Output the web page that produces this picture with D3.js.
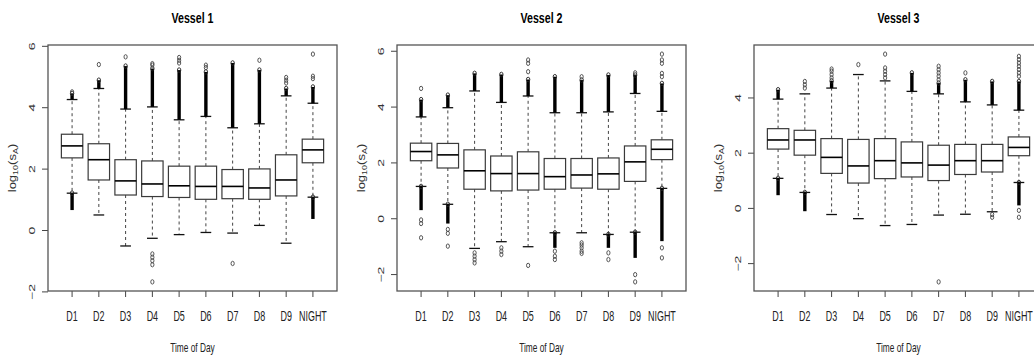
<!DOCTYPE html>
<html>
<head>
<meta charset="utf-8">
<script src="https://cdn.jsdelivr.net/npm/d3@7"></script>
<style>
  body { margin: 0; background: #fff; }
  text { font-family: "Liberation Sans", Arial, sans-serif; fill: #222; }
</style>
</head>
<body>
<svg id="chart" width="1034" height="355"></svg>
<script>
const categories = ["D1", "D2", "D3", "D4", "D5", "D6", "D7", "D8", "D9", "NIGHT"];

// Vessel 1
const v1Lower  = [1.20, 0.49, -0.52, -0.27, -0.15, -0.08, -0.10, 0.15, -0.43, 1.07];
const v1Q1     = [2.35, 1.63, 1.14, 1.09, 1.06, 1.00, 1.02, 1.00, 1.11, 2.19];
const v1Median = [2.74, 2.29, 1.60, 1.50, 1.44, 1.42, 1.42, 1.37, 1.63, 2.61];
const v1Q3     = [3.12, 2.81, 2.29, 2.25, 2.08, 2.08, 1.97, 1.99, 2.45, 2.96];
const v1Upper  = [4.25, 4.61, 3.94, 4.01, 3.59, 3.70, 3.33, 3.46, 4.37, 4.13];
// runs of outliers too dense to separate: [from, to]
const v1Dense = [
  [[4.25, 4.45], [0.65, 1.20]], [[4.61, 4.88]], [[3.94, 5.34]], [[4.01, 5.26]], [[3.59, 5.21]],
  [[3.70, 5.15]], [[3.33, 5.44]], [[3.46, 5.21]], [[4.37, 4.61]], [[4.13, 4.66], [0.36, 1.07]]
];
const v1Outliers = [
  [4.50], [5.39], [5.64], [5.42, 5.37, -0.78, -0.89, -1.00, -1.13, -1.69], [5.62, 5.53, 5.44],
  [5.37, 5.29], [-1.09], [5.53], [4.97, 4.88, 4.79], [5.01, 4.93, 5.73]
];

// Vessel 2
const v2Lower  = [1.14, 0.50, -1.08, -0.84, -1.02, -0.52, -0.52, -0.58, -0.50, 1.07];
const v2Q1     = [2.06, 1.80, 1.04, 0.98, 1.01, 1.04, 1.08, 1.04, 1.32, 2.10];
const v2Median = [2.39, 2.27, 1.70, 1.60, 1.60, 1.49, 1.55, 1.59, 2.02, 2.47];
const v2Q3     = [2.69, 2.68, 2.45, 2.23, 2.38, 2.14, 2.14, 2.16, 2.59, 2.81];
const v2Upper  = [3.63, 3.96, 4.56, 4.15, 4.38, 3.78, 3.78, 3.81, 4.47, 3.83];
const v2Dense = [
  [[3.63, 4.25], [0.29, 1.14]], [[3.96, 4.41], [-0.19, 0.50]], [[4.56, 5.19]], [[4.15, 5.15]], [[4.38, 4.97]],
  [[3.78, 5.07], [-1.06, -0.52]], [[3.78, 4.95]], [[3.81, 5.13], [-1.06, -0.58]],
  [[4.47, 5.13], [-1.42, -0.50]], [[3.83, 4.83], [-0.82, 1.07]]
];
const v2Outliers = [
  [4.65, -0.06, -0.19, -0.70], [-0.40, -0.54, -1.00], [-1.24, -1.36, -1.48, -1.60], [-1.06, -1.18, -1.30],
  [5.67, 5.55, 5.25, -1.69], [-1.18, -1.36, -1.48], [5.07, -0.88, -0.96, -1.06, -1.18, -1.26],
  [-1.24, -1.48], [5.21, -2.02, -2.28], [5.88, 5.67, 5.55, 5.19, 5.07, -1.06, -1.42]
];

// Vessel 3
const v3Lower  = [1.07, 0.56, -0.24, -0.39, -0.64, -0.60, -0.26, -0.23, -0.14, 0.92];
const v3Q1     = [2.13, 1.91, 1.25, 0.90, 1.06, 1.12, 0.99, 1.21, 1.30, 1.89];
const v3Median = [2.46, 2.46, 1.83, 1.52, 1.71, 1.63, 1.55, 1.71, 1.71, 2.19];
const v3Q3     = [2.87, 2.81, 2.51, 2.48, 2.51, 2.39, 2.27, 2.30, 2.30, 2.57];
const v3Upper  = [3.94, 4.13, 4.34, 4.83, 4.60, 4.22, 4.13, 3.84, 3.73, 3.54];
const v3Dense = [
  [[3.94, 4.28], [0.46, 1.07]], [[-0.12, 0.56]], [[4.34, 4.60]], [], [],
  [[4.22, 4.89]], [[4.13, 4.52]], [[3.84, 4.64]], [[3.73, 4.58]], [[3.54, 4.58], [0.09, 0.92]]
];
const v3Outliers = [
  [], [4.58, 4.46, 4.34], [4.71, 4.83, 4.95, 5.03], [5.19], [4.71, 4.83, 4.95, 5.07, 5.57],
  [], [4.64, 4.77, 4.89, 5.01, 5.13, -2.68], [4.89], [-0.24, -0.34],
  [4.77, 4.89, 5.01, 5.13, 5.25, 5.37, 5.49, -0.09, -0.34]
];

const yTicks12 = [-2, 0, 2, 4, 6];
const yTicks3 = [-2, 0, 2, 4];

const panels = [
  { title: "Vessel 1", left: 48, lower: v1Lower, q1: v1Q1, median: v1Median, q3: v1Q3, upper: v1Upper, dense: v1Dense, outliers: v1Outliers, ticks: yTicks12 },
  { title: "Vessel 2", left: 397, lower: v2Lower, q1: v2Q1, median: v2Median, q3: v2Q3, upper: v2Upper, dense: v2Dense, outliers: v2Outliers, ticks: yTicks12 },
  { title: "Vessel 3", left: 754, lower: v3Lower, q1: v3Q1, median: v3Median, q3: v3Q3, upper: v3Upper, dense: v3Dense, outliers: v3Outliers, ticks: yTicks3 }
];

const plotWidth = 289;
const plotTop = 45, plotBottom = 291;
// the source image is squeezed sideways, so text is narrowed the same way
const squeeze = 0.64;
const svg = d3.select("#chart");
svg.append("rect").attr("width", 1034).attr("height", 355).attr("fill", "#fff");

panels.forEach(p => {
  const g = svg.append("g");
  const right = p.left + plotWidth;

  let all = p.lower.concat(p.upper, p.outliers.flat(), p.dense.flat(2));
  let [mn, mx] = d3.extent(all);
  let pad = (mx - mn) * 0.04;
  const y = d3.scaleLinear().domain([mn - pad, mx + pad]).range([plotBottom, plotTop]);
  const x = d3.scaleBand().domain(categories).range([p.left, right]).paddingInner(0.2).paddingOuter(0.5);
  const bw = x.bandwidth();

  // axes
  const yAxis = g.append("g")
    .attr("transform", "translate(" + p.left + ",0)")
    .call(d3.axisLeft(y).tickValues(p.ticks).tickSize(6).tickPadding(0).tickFormat(d3.format("d")));
  yAxis.select(".domain").remove();
  yAxis.selectAll("line").attr("stroke", "#444");
  yAxis.selectAll("text")
    .attr("x", 0).attr("dy", 0)
    .attr("transform", "translate(-16,0) scale(" + squeeze + ",1) rotate(-90)")
    .attr("text-anchor", "middle")
    .attr("dominant-baseline", "central")
    .style("font-size", "14px")
    .style("fill", "#333");

  const xAxis = g.append("g")
    .attr("transform", "translate(0," + plotBottom + ")")
    .call(d3.axisBottom(x).tickSize(6).tickPadding(14));
  xAxis.select(".domain").remove();
  xAxis.selectAll("line").attr("stroke", "#444");
  xAxis.selectAll("text")
    .attr("transform", "scale(" + squeeze + ",1)")
    .style("font-size", "14px")
    .style("fill", "#222");

  // boxes
  categories.forEach((c, i) => {
    const cx = x(c) + bw / 2;
    const box = g.append("g");

    // whiskers
    [[p.q3[i], p.upper[i]], [p.q1[i], p.lower[i]]].forEach(w => {
      box.append("line")
        .attr("x1", cx).attr("x2", cx)
        .attr("y1", y(w[0])).attr("y2", y(w[1]))
        .attr("stroke", "#444").attr("stroke-width", 1)
        .attr("stroke-dasharray", "3,3");
      box.append("line")
        .attr("x1", cx - bw / 4).attr("x2", cx + bw / 4)
        .attr("y1", y(w[1])).attr("y2", y(w[1]))
        .attr("stroke", "#111").attr("stroke-width", 1.3);
    });

    box.append("rect")
      .attr("x", x(c)).attr("width", bw)
      .attr("y", y(p.q3[i])).attr("height", y(p.q1[i]) - y(p.q3[i]))
      .attr("fill", "#fff").attr("stroke", "#3a3a3a").attr("stroke-width", 1.2);
    box.append("line")
      .attr("x1", x(c)).attr("x2", x(c) + bw)
      .attr("y1", y(p.median[i])).attr("y2", y(p.median[i]))
      .attr("stroke", "#000").attr("stroke-width", 1.6);

    // dense outlier runs
    p.dense[i].forEach(r => {
      box.append("line")
        .attr("x1", cx).attr("x2", cx)
        .attr("y1", y(r[0])).attr("y2", y(r[1]))
        .attr("stroke", "#000").attr("stroke-width", 3.4);
      box.append("ellipse")
        .attr("cx", cx).attr("cy", y(r[1]))
        .attr("rx", 1.7).attr("ry", 2.3)
        .attr("fill", "none").attr("stroke", "#222").attr("stroke-width", 0.9);
    });

    // single outliers
    box.selectAll(".out").data(p.outliers[i]).enter()
      .append("ellipse")
      .attr("cx", cx).attr("cy", d => y(d))
      .attr("rx", 1.6).attr("ry", 2.2)
      .attr("fill", "none").attr("stroke", "#444").attr("stroke-width", 0.9);
  });

  // frame
  g.append("rect")
    .attr("x", p.left).attr("y", plotTop)
    .attr("width", plotWidth).attr("height", plotBottom - plotTop)
    .attr("fill", "none").attr("stroke", "#555").attr("stroke-width", 1.3);

  const mid = (p.left + right) / 2;
  g.append("text")
    .attr("transform", "translate(" + mid + ",23) scale(0.76,1)")
    .attr("text-anchor", "middle")
    .style("font-size", "14px").style("font-weight", "bold")
    .style("fill", "#000")
    .text(p.title);

  g.append("text")
    .attr("transform", "translate(" + mid + ",352) scale(" + squeeze + ",1)")
    .attr("text-anchor", "middle")
    .style("font-size", "13px")
    .text("Time of Day");

  const yl = g.append("text")
    .attr("transform", "translate(" + (p.left - 32) + "," + ((plotTop + plotBottom) / 2) + ") scale(0.8,1) rotate(-90)")
    .attr("text-anchor", "middle")
    .style("font-size", "13px")
    .style("fill", "#333");
  yl.append("tspan").text("log");
  yl.append("tspan").attr("dy", 3).style("font-size", "9px").text("10");
  yl.append("tspan").attr("dy", -3).text("(s");
  yl.append("tspan").attr("dy", 3).style("font-size", "9px").text("A");
  yl.append("tspan").attr("dy", -3).text(")");
});
</script>
</body>
</html>
